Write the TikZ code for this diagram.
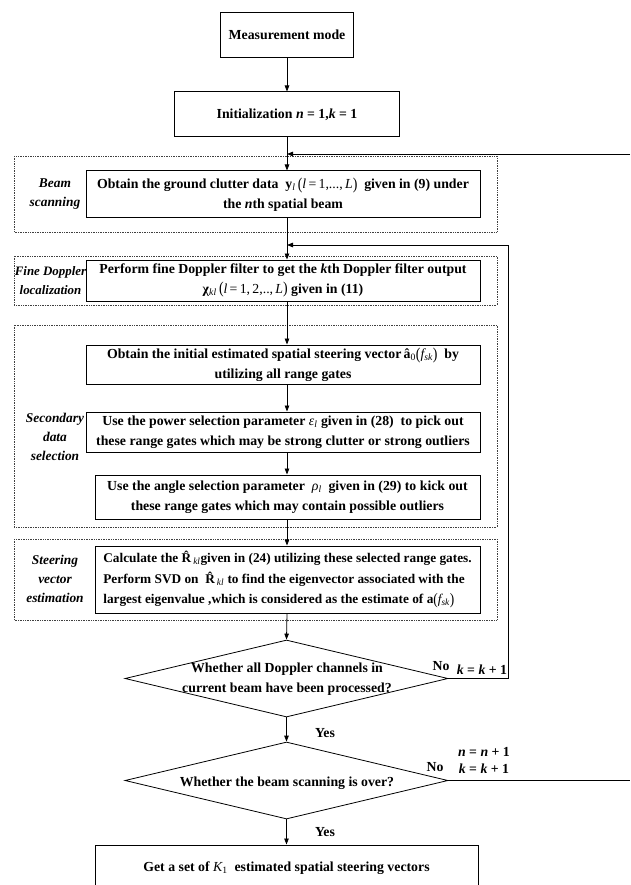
\documentclass[tikz,border=0pt]{standalone}
\usepackage{fontspec}
\setmainfont{Liberation Serif}
\usetikzlibrary{arrows.meta,shapes.geometric}
\newcommand{\mi}[1]{{\mdseries\itshape #1}}
\newcommand{\bi}[1]{{\bfseries\itshape #1}}
\newcommand{\sbs}[1]{\textsubscript{\mdseries\itshape #1}}
\newcommand{\lpar}{\raisebox{-0.12ex}{\scalebox{1}[1.2]{\mdseries(}}}
\newcommand{\rpar}{\raisebox{-0.12ex}{\scalebox{1}[1.2]{\mdseries)}}}
\tikzset{
  box/.style={draw, line width=1pt, inner sep=2pt, align=center, font=\fontsize{13.8}{20}\selectfont\bfseries},
  grp/.style={draw=black!75, densely dotted, line width=0.7pt},
  glabel/.style={align=center, font=\fontsize{13.4}{19}\selectfont\bfseries\itshape},
  dtext/.style={align=center, font=\fontsize{13.8}{20}\selectfont\bfseries},
  dia/.style={draw, diamond, line width=0.8pt, inner sep=0pt, minimum width=323pt, minimum height=77pt},
  arr/.style={line width=0.8pt, -{Triangle[length=6pt,width=4.5pt]}},
  ln/.style={line width=0.8pt},
  lbl/.style={font=\fontsize{13.8}{17}\selectfont\bfseries, align=center}
}
\begin{document}
\begin{tikzpicture}[x=1pt,y=-1pt]
\useasboundingbox (0,0) rectangle (630,885);
\clip (0,0) rectangle (630,885);
% groups
\draw[grp] (14,156) rectangle (497,232);
\draw[grp] (14,256) rectangle (497,305);
\draw[grp] (14,325) rectangle (497,527);
\draw[grp] (14,539) rectangle (497,620);
\node[glabel] (gl1) at (55,194) {Beam\\scanning};
\node[glabel, font=\fontsize{12.9}{19}\selectfont\bfseries\itshape] (gl2) at (50.5,281) {Fine Doppler\\localization};
\node[glabel] (gl3) at (55,437) {Secondary\\data\\selection};
\node[glabel] (gl4) at (55,579) {Steering\\vector\\estimation};
% boxes
\node[box, minimum width=133pt, minimum height=45pt] (mm) at (287,35) {Measurement mode};
\node[box, minimum width=225pt, minimum height=45pt] (init) at (287,114.5) {Initialization \bi{n} = 1,\bi{k} = 1};
\node[box, minimum width=394pt, minimum height=47pt] (beam) at (283,194.5)
  {Obtain the ground clutter data \ \textbf{y}\sbs{l}\,\lpar\mi{l}{\mdseries\,=\,1,...,\,}\mi{L}\rpar\ \ given in (9) under\\ the \bi{n}th spatial beam};
\node[box, minimum width=394pt, minimum height=41pt] (fine) at (283,280.5)
  {Perform fine Doppler filter to get the \bi{k}th Doppler filter output\\ \textbf{χ}\sbs{kl}\,\lpar\mi{l}{\mdseries\,=\,1,\,2,..,\,}\mi{L}\rpar\ given in (11)};
\node[box, minimum width=394pt, minimum height=39pt] (s1) at (283,364.5)
  {Obtain the initial estimated spatial steering vector\,\textbf{\^a}\textsubscript{\mdseries 0}\lpar\mi{f}\sbs{sk}\rpar\ \ by\\ utilizing all range gates};
\node[box, minimum width=394pt, minimum height=40pt] (s2) at (283,432)
  {Use the power selection parameter \mi{ε}\sbs{l} given in (28) \ to pick out\\ these range gates which may be strong clutter or strong outliers};
\node[box, minimum width=385pt, minimum height=44pt] (s3) at (287.5,497)
  {Use the angle selection parameter \ \mi{ρ}\sbs{l} \ given in (29) to kick out\\ these range gates which may contain possible outliers};
\node[box, minimum width=385pt, minimum height=67pt, align=left, inner xsep=3pt, font=\fontsize{13.3}{20.5}\selectfont\bfseries] (s4) at (287.5,579.5)
  {Calculate the \textbf{\^R}\sbs{kl}given in (24) utilizing these selected range gates.\\ Perform SVD on \ \textbf{\^R}\sbs{kl} to find the eigenvector associated with the\\ largest eigenvalue ,which is considered as the estimate of \textbf{a}\lpar\mi{f}\sbs{sk}\rpar};
\node[dia] (d1) at (286.5,678.5) {};
\node[dtext] (d1t) at (287,679) {Whether all Doppler channels in\\current beam have been processed?};
\node[dia] (d2) at (286.5,780.5) {};
\node[dtext] (d2t) at (287,783) {Whether the beam scanning is over?};
\node[box, minimum width=383pt, minimum height=46pt] (fin) at (286.5,868)
  {Get a set of \mi{K}\textsubscript{\mdseries 1} \ estimated spatial steering vectors};
% main flow
\draw[arr] (mm.south) -- (mm.south |- init.north);
\draw[arr] (init.south) -- (init.south |- beam.north);
\draw[arr] (init.south |- beam.south) -- (init.south |- fine.north);
\draw[arr] (init.south |- fine.south) -- (init.south |- s1.north);
\draw[arr] (init.south |- s1.south) -- (init.south |- s2.north);
\draw[arr] (init.south |- s2.south) -- (init.south |- s3.north);
\draw[arr] (init.south |- s3.south) -- (init.south |- s4.north);
\draw[arr] (init.south |- s4.south) -- (d1.north);
\draw[arr] (d1.south) -- (d2.north);
\draw[arr] (d2.south) -- (d2.south |- fin.north);
\node[lbl] (y1) at (325,733) {Yes};
\node[lbl] (y2) at (325,832) {Yes};
% feedback loops
\coordinate (fb1) at (630,154);
\draw[arr] (fb1) -- (fb1 -| init.south);
\coordinate (fb2) at (508,245);
\draw[arr] (d1.east) -| (fb2) -- (fb2 -| init.south);
\coordinate (fb3) at (630,780.5);
\draw[ln] (d2.east) -- (fb3);
\node[lbl] (no1) at (441,666) {No};
\node[lbl] (k1) at (482,670) {\bi{k} = \bi{k} + 1};
\node[lbl] (no2) at (435,767) {No};
\node[lbl] (nk2) at (484,760) {\bi{n} = \bi{n} + 1\\ \bi{k} = \bi{k} + 1};
\end{tikzpicture}
\end{document}
